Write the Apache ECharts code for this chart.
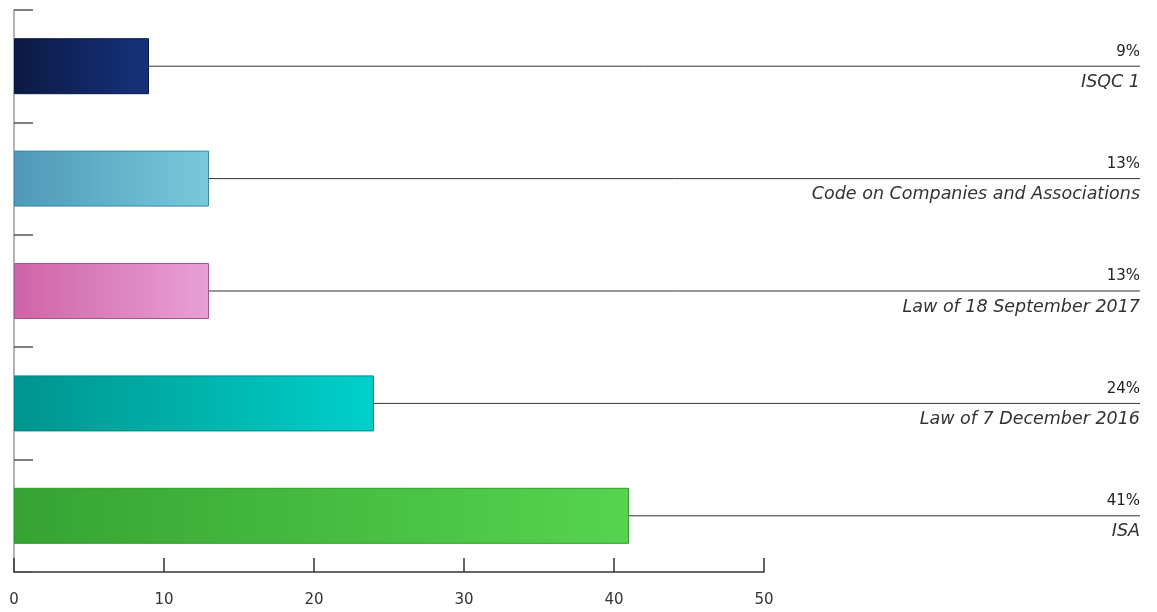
<!DOCTYPE html>
<html>
<head>
<meta charset="utf-8">
<script src="https://cdn.jsdelivr.net/npm/echarts@6/dist/echarts.min.js"></script>
<style>
  html, body { margin: 0; padding: 0; background: #fff; }
  #chart { width: 1157px; height: 612px; }
</style>
</head>
<body>
<div id="chart"></div>
<script>
// categories, top to bottom
var categories = ['ISQC 1', 'Code on Companies and Associations', 'Law of 18 September 2017', 'Law of 7 December 2016', 'ISA'];
var values = [9, 13, 13, 24, 41];
var xTicks = [0, 10, 20, 30, 40, 50];

// bar gradient colours: [left, right, border]
var barColors = [
  ['#0b1a44', '#16327c', '#0a1840'],
  ['#4e99b8', '#79c9db', '#3d88a4'],
  ['#cf63a7', '#e8a0d6', '#a9548f'],
  ['#00948e', '#00d0ca', '#00847e'],
  ['#36a332', '#56d44e', '#2f9a2b']
];

var LABEL_X = 1140; // right end of the leader lines
var FONT = '"DejaVu Sans", "Open Sans", sans-serif';

var barData = values.map(function (v, i) {
  var c = barColors[i];
  return {
    value: v,
    itemStyle: {
      color: new echarts.graphic.LinearGradient(0, 0, 1, 0, [
        { offset: 0, color: c[0] },
        { offset: 1, color: c[1] }
      ]),
      borderColor: c[2],
      borderWidth: 1
    }
  };
});

var leaderData = values.map(function (v, i) { return [v, i]; });

var chart = echarts.init(document.getElementById('chart'));
var option = {
  animation: false,
  textStyle: { fontFamily: FONT },
  grid: { left: 14, top: 10, width: 750, height: 562, containLabel: false },
  xAxis: {
    type: 'value',
    min: xTicks[0],
    max: xTicks[xTicks.length - 1],
    interval: 10,
    splitLine: { show: false },
    axisLine: { show: true, lineStyle: { color: '#333', width: 1.5 } },
    axisTick: { show: true, inside: true, length: 14, lineStyle: { color: '#333', width: 1.5 } },
    axisLabel: { color: '#333', fontSize: 15, margin: 21 }
  },
  yAxis: {
    type: 'category',
    inverse: true,
    data: categories,
    axisLine: { show: true, lineStyle: { color: '#999', width: 1.5 } },
    axisTick: { show: true, inside: true, length: 19, lineStyle: { color: '#555', width: 1.5 } },
    axisLabel: { show: false }
  },
  series: [
    {
      type: 'bar',
      data: barData,
      barWidth: 56,
      z: 3
    },
    {
      type: 'custom',
      data: leaderData,
      encode: { x: 0, y: 1 },
      z: 2,
      renderItem: function (params, api) {
        var p = api.coord([api.value(0), api.value(1)]);
        var idx = params.dataIndex;
        return {
          type: 'group',
          children: [
            {
              type: 'line',
              shape: { x1: p[0], y1: p[1], x2: LABEL_X, y2: p[1] },
              style: { stroke: '#333', lineWidth: 1 }
            },
            {
              type: 'text',
              style: {
                x: LABEL_X, y: p[1] - 7,
                text: values[idx] + '%',
                align: 'right', verticalAlign: 'bottom',
                fill: '#222', font: '15px ' + FONT
              }
            },
            {
              type: 'text',
              style: {
                x: LABEL_X, y: p[1] + 7,
                text: categories[idx],
                align: 'right', verticalAlign: 'top',
                fill: '#333', font: 'italic 17.5px ' + FONT
              }
            }
          ]
        };
      }
    }
  ]
};
chart.setOption(option);
</script>
</body>
</html>
